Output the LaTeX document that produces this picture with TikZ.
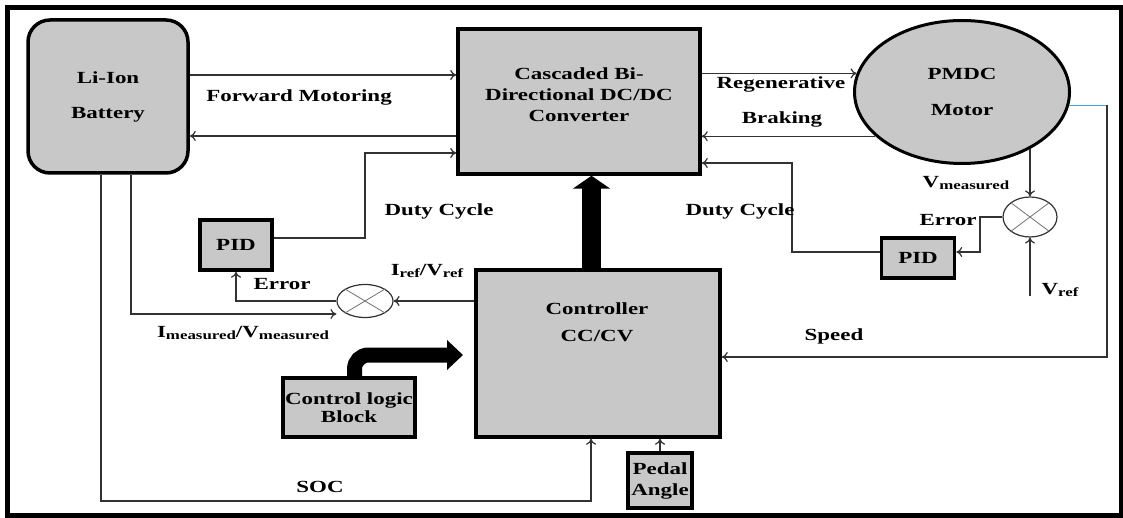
\documentclass[tikz,border=0pt]{standalone}
\usepackage{fontspec}
\setmainfont{Liberation Serif}[FakeStretch=1.35]
\usetikzlibrary{arrows.meta,shapes.geometric}
\definecolor{boxgray}{RGB}{200,200,200}
\definecolor{speedcyan}{RGB}{60,170,200}
\definecolor{linegray}{RGB}{50,50,50}
\newcommand{\lowtext}[1]{\raisebox{-2.5pt}{\fontsize{12.5}{13}\selectfont #1}}

\begin{document}
\begin{tikzpicture}[x=1pt,y=-1pt,
        font=\fontsize{17}{21}\selectfont\bfseries,
        block/.style={draw=black, line width=3.5pt, fill=boxgray, inner sep=0pt, align=center},
        flow/.style={draw=linegray, line width=1.2pt, -{To[length=6pt,width=10pt]}},
        sumjunc/.style={ellipse, draw=linegray, line width=1.2pt, inner sep=0pt},
        cross/.style={draw=linegray!70, line width=0.8pt}]

        \useasboundingbox (0,0) rectangle (1123,518);
        \draw[line width=5pt] (7.5,7.5) rectangle (1121,515.5);

        % blocks
        \node[block, rounded corners=22pt, minimum width=160pt, minimum height=153pt] (battery) at (108,96.5) {Li-Ion\\[14pt]Battery};
        \node[block, minimum width=242pt, minimum height=145pt] (conv) at (579,101.5) {Cascaded Bi-\\Directional DC/DC\\Converter\\[-7pt]};
        \node[block, ellipse, line width=3pt, minimum width=215pt, minimum height=143pt] (motor) at (962,92) {PMDC\\[15pt]Motor};
        \node[block, minimum width=244pt, minimum height=167pt] (ctrl) at (598,353.5) {};
        \node[align=center] (ctrltxt) at (597,322) {Controller\\[6pt]CC/CV};
        \node[block, minimum width=72pt, minimum height=50pt] (pidL) at (236,245) {PID};
        \node[block, minimum width=73pt, minimum height=40pt] (pidR) at (918,258) {PID};
        \node[block, minimum width=132pt, minimum height=59pt] (logic) at (349,407.5) {Control logic\\[-3pt]Block};
        \node[block, minimum width=64pt, minimum height=55pt] (pedal) at (660,480.5) {Pedal\\Angle};

        % summing points
        \node[sumjunc, minimum width=56pt, minimum height=33pt] (sumL) at (365,301) {};
        \node[sumjunc, minimum width=54pt, minimum height=40pt] (sumR) at (1030,217) {};
        \draw[cross] (sumL.north west) -- (sumL.south east) (sumL.north east) -- (sumL.south west);
        \draw[cross] (sumR.north west) -- (sumR.south east) (sumR.north east) -- (sumR.south west);

        % power flow
        \draw[flow] (battery.east) ++(0,-21.5) coordinate (fw) -- (fw -| conv.west);
        \draw[flow] (conv.west) ++(0,34.5) coordinate (bw) -- (bw -| battery.east);
        \draw[flow] (conv.east |- motor.170) -- (motor.170);
        \draw[flow] (motor.207) -- (motor.207 -| conv.east);

        % duty cycle loops
        \coordinate (dl) at (365,153);
        \draw[flow] (pidL.east) ++(0,-7) -| (dl) -- (dl -| conv.west);
        \coordinate (dr) at (792,163);
        \coordinate (er) at (980,252);
        \draw[flow] (er -| pidR.west) -| (dr) -- (dr -| conv.east);
        \draw[flow] (sumR.west) -| (er) -- (er -| pidR.east);
        \draw[flow] (motor.-40 -| sumR.north) -- (sumR.north);
        \coordinate (vr) at (1030,296);
        \draw[flow] (vr) -- (sumR.south);

        % current / voltage loop
        \draw[flow] (sumL.east -| ctrl.west) -- (sumL.east);
        \draw[flow] (sumL.west) -| (pidL.south);
        \coordinate (im) at (131,314);
        \draw[flow] (battery.south -| im) -- (im) -- (im -| sumL.west);

        % speed feedback
        \coordinate (sp) at (1107,357);
        \draw[speedcyan, line width=1.2pt] (motor.-7) -- (motor.-7 -| sp);
        \draw[flow] (motor.-7 -| sp) -- (sp) -- (sp -| ctrl.east);

        % SOC and pedal
        \coordinate (soc) at (101,501);
        \coordinate (socup) at (591,501);
        \draw[flow] (battery.south -| soc) |- (socup) -- (socup |- ctrl.south);
        \draw[flow] (pedal.north) -- (pedal.north |- ctrl.south);

        % thick arrows
        \coordinate (bigx) at (591.5,0);
        \draw[line width=19pt, -{Triangle[length=13pt,width=37pt]}] (ctrl.north -| bigx) -- (conv.south -| bigx);
        \coordinate (lgturn) at (354.5,355);
        \coordinate (lgtip) at (463,355);
        \draw[line width=15pt, rounded corners=14pt, -{Triangle[length=16pt,width=29pt]}] (logic.north -| lgturn) |- (lgtip);

        % labels
        \node (fwdlbl) at (299,97) {Forward Motoring};
        \node (regenlbl) at (781,84) {Regenerative};
        \node (brakelbl) at (782,119) {Braking};
        \node (dutyL) at (439,211) {Duty Cycle};
        \node (dutyR) at (740,211) {Duty Cycle};
        \node (vmeas) at (966,183) {V\lowtext{measured}};
        \node (errR) at (948,220) {Error};
        \node (vref) at (1060,290) {V\lowtext{ref}};
        \node (errL) at (282,284) {Error};
        \node (iref) at (427,271) {I\lowtext{ref}/V\lowtext{ref}};
        \node (imeas) at (243,333) {I\lowtext{measured}/V\lowtext{measured}};
        \node (speedlbl) at (834,336) {Speed};
        \node (soclbl) at (320,487) {SOC};
\end{tikzpicture}
\end{document}
